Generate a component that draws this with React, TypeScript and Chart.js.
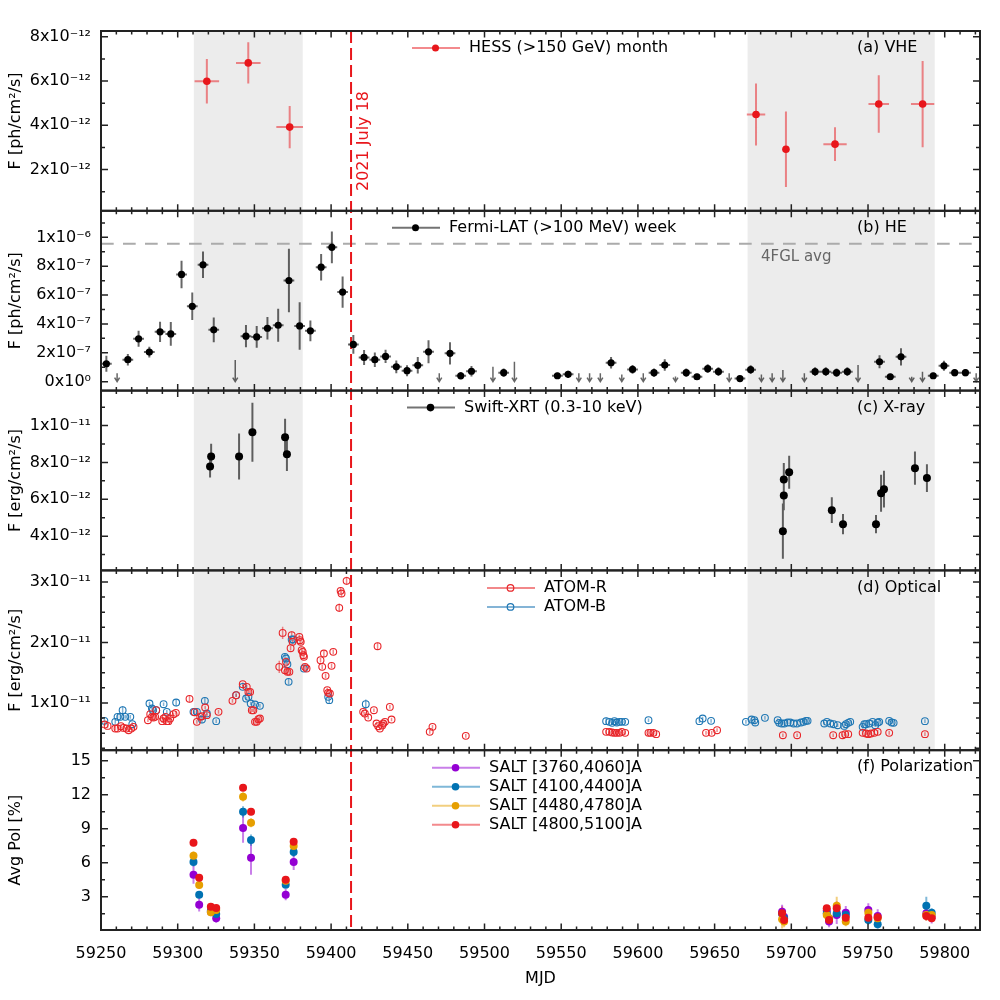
import React, { useEffect, useRef } from 'react';
import { Chart, registerables } from 'chart.js';

Chart.register(...registerables);

const FONT_FAMILY = "'DejaVu Sans', 'Liberation Sans', sans-serif";

// ---------------- shared time axis ----------------
const X_RANGE = [59250, 59823];
const X_MAJOR_STEP = 50;
const X_MINOR_STEP = 10;
const SHADED_BANDS = [
  [59310.5, 59381.5],
  [59671.5, 59793.5],
];
const EVENT_MJD = 59413;
const EVENT_TEXT = '2021 July 18';

// ---------------- (a) VHE: H.E.S.S. monthly (flux in 1e-12 ph/cm2/s) ----------------
const hessMjd = [59319, 59346, 59373, 59677, 59696.5, 59728.5, 59757, 59785.6];
const hessFlux = [5.99, 6.82, 3.92, 4.49, 2.92, 3.15, 4.96, 4.96];
const hessErr = [1.0, 0.93, 0.95, 1.4, 1.7, 0.76, 1.3, 1.95];
const hessXErr = [8, 8, 8.7, 6, 0, 7.6, 6.7, 7.6];

// ---------------- (b) HE: Fermi-LAT weekly (flux in 1e-6 ph/cm2/s) ----------------
// [mjd, flux, err]
const fermiPoints = [
  [59253.5, 0.124, 0.055], [59267.5, 0.152, 0.04], [59274.5, 0.297, 0.055], [59281.5, 0.205, 0.037],
  [59288.5, 0.345, 0.07], [59295.5, 0.331, 0.083], [59302.5, 0.743, 0.095], [59309.5, 0.522, 0.095],
  [59316.5, 0.81, 0.092], [59323.5, 0.359, 0.086], [59344.5, 0.315, 0.077], [59351.5, 0.31, 0.075],
  [59358.5, 0.37, 0.078], [59365.5, 0.391, 0.115], [59372.5, 0.701, 0.22], [59379.5, 0.386, 0.165],
  [59386.5, 0.352, 0.072], [59393.5, 0.793, 0.092], [59400.5, 0.931, 0.11], [59407.5, 0.621, 0.108],
  [59414.5, 0.258, 0.065], [59421.5, 0.168, 0.052], [59428.5, 0.152, 0.05], [59435.5, 0.175, 0.046],
  [59442.5, 0.103, 0.044], [59449.5, 0.076, 0.038], [59456.5, 0.113, 0.057], [59463.5, 0.207, 0.08],
  [59477.5, 0.196, 0.077], [59484.5, 0.041, 0.026], [59491.5, 0.072, 0.037], [59512.5, 0.062, 0.03],
  [59547.5, 0.041, 0.02], [59554.5, 0.051, 0.025], [59582.5, 0.131, 0.04], [59596.5, 0.085, 0.03],
  [59610.5, 0.062, 0.03], [59617.5, 0.115, 0.04], [59631.5, 0.062, 0.03], [59638.5, 0.034, 0.02],
  [59645.5, 0.09, 0.03], [59652.5, 0.069, 0.03], [59666.5, 0.021, 0.015], [59673.5, 0.083, 0.03],
  [59715.5, 0.069, 0.03], [59722.5, 0.069, 0.03], [59729.5, 0.062, 0.03], [59736.5, 0.069, 0.03],
  [59757.5, 0.138, 0.045], [59764.5, 0.034, 0.02], [59771.5, 0.172, 0.06], [59792.5, 0.041, 0.02],
  [59799.5, 0.11, 0.035], [59806.5, 0.062, 0.025], [59813.5, 0.062, 0.025],
];
const FERMI_XERR = 3.5;
// [mjd, upper limit]
const fermiUpperLimits = [
  [59260.5, 0.058], [59337.5, 0.15], [59470.5, 0.058], [59505.5, 0.103], [59519.5, 0.138],
  [59561.5, 0.058], [59568.5, 0.058], [59575.5, 0.058], [59589.5, 0.05], [59603.5, 0.058],
  [59624.5, 0.035], [59659.5, 0.058], [59680.5, 0.05], [59687.5, 0.058], [59694.5, 0.08],
  [59708.5, 0.058], [59743.5, 0.115], [59778.5, 0.034], [59785.5, 0.069], [59820.5, 0.058],
];
const UL_ARROW_END = 0;
const FERMI_4FGL_AVG = 0.955;

// ---------------- (c) X-ray: Swift-XRT (flux in 1e-12 erg/cm2/s) ----------------
const swiftMjd = [59321.1, 59321.8, 59340.0, 59348.7, 59370.0, 59371.2, 59694.5, 59695.1, 59695.1,
  59698.6, 59726.4, 59733.7, 59755.2, 59758.5, 59760.4, 59780.6, 59788.4];
const swiftFlux = [7.78, 8.32, 8.32, 9.64, 9.37, 8.44, 4.27, 6.21, 7.07, 7.47, 5.41, 4.65, 4.65, 6.33,
  6.55, 7.69, 7.15];
const swiftErr = [0.6, 0.7, 1.25, 1.6, 1.0, 0.9, 1.5, 0.8, 0.9, 0.9, 0.7, 0.55, 0.5, 1.0, 1.0, 0.9, 0.75];

// ---------------- (d) Optical: ATOM (flux in 1e-12 erg/cm2/s) [mjd, flux, err] ----------------
const atomR = [
  [59252.4, 6.42, 0.3], [59254.3, 6.2, 0.3], [59259.3, 5.76, 0.3], [59260.8, 5.76, 0.3], [59263.0, 6.15, 0.3],
  [59264.7, 5.87, 0.3], [59266.5, 5.76, 0.3], [59268.0, 5.49, 0.3], [59269.7, 5.76, 0.3], [59271.2, 6.04, 0.3],
  [59280.6, 7.14, 0.3], [59282.1, 8.13, 0.3], [59283.2, 7.69, 0.3], [59284.2, 7.58, 0.3], [59285.3, 7.69, 0.3],
  [59286.0, 8.79, 0.3], [59289.9, 6.98, 0.3], [59290.8, 7.42, 0.3], [59292.1, 7.69, 0.3], [59292.9, 6.98, 0.3],
  [59294.0, 6.98, 0.3], [59295.1, 7.42, 0.3], [59297.3, 8.13, 0.3], [59298.8, 8.35, 0.3], [59307.7, 10.67, 0.6],
  [59311.0, 8.46, 0.3], [59312.5, 6.87, 0.3], [59314.7, 7.69, 0.3], [59315.8, 7.8, 0.3], [59317.9, 9.23, 0.3],
  [59319.0, 7.97, 0.3], [59326.6, 8.52, 0.3], [59335.7, 10.34, 0.3], [59338.1, 11.27, 0.3], [59342.4, 13.09, 0.3],
  [59345.0, 12.65, 0.3], [59346.1, 11.82, 0.3], [59347.2, 11.82, 0.3], [59348.3, 8.79, 0.3], [59349.3, 8.79, 0.3],
  [59350.4, 6.87, 0.3], [59351.5, 6.87, 0.3], [59352.6, 7.31, 0.3], [59353.6, 7.42, 0.3], [59366.2, 15.96, 1.0],
  [59368.4, 21.57, 1.0], [59369.9, 15.41, 0.6], [59370.6, 16.78, 0.4], [59371.5, 15.13, 0.4], [59372.8, 15.13, 0.4],
  [59373.6, 19.04, 0.4], [59374.3, 21.19, 0.6], [59374.9, 20.09, 0.4], [59379.3, 20.91, 0.4], [59379.7, 20.36, 0.4],
  [59380.2, 20.09, 0.4], [59380.8, 18.71, 0.4], [59381.5, 18.44, 0.4], [59381.9, 17.88, 0.4], [59382.3, 17.61, 0.4],
  [59383.0, 15.96, 0.4], [59384.0, 15.68, 0.4], [59393.1, 17.06, 0.4], [59394.2, 15.96, 0.4], [59395.3, 18.16, 0.4],
  [59396.4, 14.47, 0.4], [59397.5, 12.1, 0.4], [59398.1, 11.66, 0.4], [59399.2, 11.55, 0.4], [59400.3, 16.12, 0.4],
  [59401.4, 18.44, 0.4], [59405.3, 25.71, 0.7], [59406.2, 28.52, 0.5], [59406.8, 28.08, 0.5], [59410.1, 30.17, 0.7],
  [59420.9, 8.52, 0.3], [59422.0, 8.24, 0.3], [59424.2, 7.58, 0.3], [59427.9, 8.79, 0.3], [59429.6, 6.59, 0.3],
  [59430.3, 19.37, 0.6], [59430.7, 6.15, 0.3], [59431.8, 5.76, 0.3], [59433.3, 6.26, 0.3], [59434.0, 6.59, 0.3],
  [59435.1, 6.87, 0.3], [59438.3, 9.34, 0.3], [59439.4, 7.25, 0.3], [59464.3, 5.21, 0.3], [59466.1, 6.04, 0.3],
  [59487.8, 4.55, 0.3],
  [59579.3, 5.21, 0.3], [59581.4, 5.21, 0.3], [59583.2, 5.1, 0.3], [59584.7, 5.05, 0.3], [59586.2, 5.05, 0.3],
  [59588.0, 5.05, 0.3], [59589.5, 5.21, 0.3], [59591.7, 5.05, 0.3], [59606.9, 5.05, 0.3], [59608.2, 5.05, 0.3],
  [59610.1, 5.05, 0.3], [59611.9, 4.83, 0.3], [59644.4, 5.05, 0.3], [59648.1, 5.05, 0.3], [59651.6, 5.49, 0.3],
  [59694.5, 4.66, 0.3], [59703.8, 4.66, 0.3], [59727.3, 4.66, 0.3], [59733.4, 4.66, 0.3], [59735.1, 4.83, 0.3],
  [59737.1, 4.83, 0.3], [59746.5, 5.05, 0.3], [59748.7, 4.94, 0.3], [59750.2, 4.83, 0.3], [59751.9, 4.94, 0.3],
  [59754.1, 5.05, 0.3], [59756.3, 5.21, 0.3], [59763.8, 5.05, 0.3], [59787.1, 4.83, 0.3],
];
const atomB = [
  [59252.2, 7.03, 0.3], [59259.3, 6.87, 0.3], [59260.8, 7.69, 0.3], [59262.6, 7.69, 0.3], [59264.1, 8.79, 0.7],
  [59265.8, 7.69, 0.3], [59269.1, 7.69, 0.3], [59270.4, 6.48, 0.3], [59281.6, 9.89, 0.3], [59283.2, 9.07, 0.3],
  [59283.8, 8.79, 0.3], [59286.0, 8.79, 0.3], [59290.8, 9.78, 0.3], [59292.9, 8.52, 0.3], [59299.0, 10.06, 0.6],
  [59310.3, 8.52, 0.3], [59312.5, 8.52, 0.3], [59315.8, 7.25, 0.6], [59317.7, 10.34, 0.6], [59319.0, 8.24, 0.3],
  [59325.1, 6.98, 0.3], [59338.1, 11.27, 0.3], [59342.4, 12.65, 0.3], [59344.6, 10.72, 0.3], [59346.1, 11.0, 0.3],
  [59347.6, 9.89, 0.3], [59350.4, 9.73, 0.3], [59353.6, 9.51, 0.3], [59369.9, 17.61, 0.6], [59370.6, 17.33, 0.3],
  [59371.5, 16.4, 0.3], [59372.3, 13.48, 0.5], [59374.3, 20.47, 0.3], [59375.4, 20.47, 0.3], [59382.3, 15.68, 0.3],
  [59398.1, 11.0, 0.3], [59398.8, 10.45, 0.5], [59422.6, 9.78, 0.8],
  [59579.3, 6.98, 0.6], [59581.4, 6.87, 0.3], [59583.2, 6.7, 0.3], [59584.7, 6.98, 0.3], [59586.2, 6.76, 0.3],
  [59588.0, 6.87, 0.3], [59589.5, 6.87, 0.3], [59591.7, 6.87, 0.3], [59606.9, 7.14, 0.3], [59640.1, 6.98, 0.3],
  [59642.2, 7.42, 0.3], [59647.7, 7.03, 0.3], [59670.4, 6.87, 0.3], [59674.1, 7.25, 0.3], [59675.9, 7.14, 0.3],
  [59676.5, 6.76, 0.3], [59682.8, 7.53, 0.3], [59691.1, 7.14, 0.3], [59692.1, 6.7, 0.3], [59693.7, 6.59, 0.3],
  [59695.4, 6.59, 0.3], [59697.6, 6.76, 0.3], [59699.3, 6.76, 0.3], [59701.5, 6.59, 0.3], [59703.7, 6.59, 0.3],
  [59706.3, 6.76, 0.3], [59708.0, 6.87, 0.3], [59709.5, 7.03, 0.3], [59710.6, 7.03, 0.3], [59721.5, 6.59, 0.3],
  [59723.2, 6.87, 0.3], [59725.4, 6.59, 0.3], [59727.6, 6.48, 0.3], [59730.2, 6.31, 0.3], [59734.5, 6.2, 0.3],
  [59735.6, 6.48, 0.3], [59737.1, 6.7, 0.3], [59738.4, 6.87, 0.3], [59746.5, 6.04, 0.3], [59747.6, 6.48, 0.3],
  [59748.7, 6.48, 0.3], [59750.8, 6.59, 0.3], [59753.0, 6.87, 0.3], [59754.7, 6.31, 0.3], [59756.3, 6.76, 0.3],
  [59757.3, 6.87, 0.3], [59763.8, 7.03, 0.3], [59765.4, 6.76, 0.3], [59766.7, 6.7, 0.3], [59787.1, 6.98, 0.3],
];

// ---------------- (f) Polarization: SALT (%) ----------------
const saltMjd = [59310.3, 59314.0, 59321.6, 59325.1, 59342.6, 59347.8, 59370.4, 59375.6, 59694.0, 59695.3,
  59723.1, 59724.6, 59729.6, 59735.5, 59750.2, 59756.3, 59788.0, 59791.5];
const salt3760 = [4.94, 2.3, 1.68, 1.09, 9.06, 6.44, 3.18, 6.06, 1.68, 1.2, 1.77, 0.8, 1.38, 1.59, 1.82, 1.3, 1.53, 1.24];
const salt3760Err = [0.8, 0.6, 0.4, 0.4, 1.3, 1.5, 0.5, 0.7, 0.6, 0.5, 0.5, 0.5, 0.8, 0.6, 0.6, 0.6, 0.6, 0.6];
const salt4100 = [6.06, 3.18, 1.77, 1.47, 10.5, 8.0, 4.06, 6.94, 1.47, 1.1, 1.53, 1.09, 1.53, 1.38, 0.94, 0.56, 2.2, 1.59];
const salt4100Err = [0.4, 0.3, 0.3, 0.3, 0.5, 0.5, 0.3, 0.4, 0.5, 0.4, 0.4, 0.4, 0.5, 0.4, 0.4, 0.4, 0.8, 0.4];
const salt4480 = [6.62, 4.03, 1.62, 1.82, 11.82, 9.53, 4.41, 7.47, 1.0, 0.8, 1.38, 1.09, 2.2, 0.8, 1.59, 1.09, 1.38, 1.38];
const salt4480Err = [0.4, 0.3, 0.3, 0.3, 0.4, 0.4, 0.3, 0.3, 0.8, 0.5, 0.4, 0.4, 0.8, 0.4, 0.4, 0.4, 0.5, 0.4];
const salt4800 = [7.76, 4.68, 2.12, 2.0, 12.62, 10.5, 4.5, 7.85, 1.53, 0.94, 1.97, 0.94, 1.97, 1.15, 1.15, 1.18, 1.3, 1.09];
const salt4800Err = [0.3, 0.3, 0.2, 0.2, 0.3, 0.3, 0.2, 0.3, 0.6, 0.4, 0.3, 0.4, 0.6, 0.3, 0.3, 0.4, 0.4, 0.3];

// ---------------- y axes ----------------
const PANEL_IDS = ['yA', 'yB', 'yC', 'yD', 'yF'];
const Y_MIN = [0.14e-12, -0.062e-6, 2.14e-12, 2.18e-12, 0.06];
const Y_MAX = [8.26e-12, 1.184e-6, 11.9e-12, 31.9e-12, 15.94];
const Y_MAJOR = [2e-12, 2e-7, 2e-12, 1e-11, 3];
const Y_MINOR = [1e-12, 1e-7, 1e-12, 2.5e-12, 1.5];
const Y_TITLES = ['F [ph/cm²/s]', 'F [ph/cm²/s]', 'F [erg/cm²/s]', 'F [erg/cm²/s]', 'Avg Pol [%]'];
const PANEL_LABELS = ['(a) VHE', '(b) HE', '(c) X-ray', '(d) Optical', '(f) Polarization'];

const E12 = 1e-12;
const E6 = 1e-6;

const RED = '#e8161b';
const RED_ALPHA = 'rgba(232,22,27,0.5)';
const GREY_BAR = 'rgba(0,0,0,0.6)';
const ATOM_R_COLOR = '#e8262a';
const ATOM_R_ALPHA = 'rgba(232,38,42,0.55)';
const ATOM_B_COLOR = '#1f77b4';
const ATOM_B_ALPHA = 'rgba(31,119,180,0.55)';
const SALT_COLORS = ['#9400d3', '#0072b2', '#e69f00', '#e8161b'];
const SALT_ALPHA = ['rgba(148,0,211,0.5)', 'rgba(0,114,178,0.5)', 'rgba(230,159,0,0.5)', 'rgba(232,22,27,0.5)'];
const SALT_LABELS = ['SALT [3760,4060]A', 'SALT [4100,4400]A', 'SALT [4480,4780]A', 'SALT [4800,5100]A'];

const SUP: Record<string, string> = {
  '-': '⁻', '0': '⁰', '1': '¹', '2': '²', '3': '³', '4': '⁴', '5': '⁵', '6': '⁶', '7': '⁷', '8': '⁸', '9': '⁹',
};
function sciLabel(v: number): string {
  if (Math.abs(v) < 1e-30) return '0x10⁰';
  let e = Math.floor(Math.log10(Math.abs(v)) + 1e-9);
  let m = Math.round(v / Math.pow(10, e));
  if (m === 10) { m = 1; e += 1; }
  return `${m}x10${String(e).split('').map((c) => SUP[c]).join('')}`;
}

const tickFont = { family: FONT_FAMILY, size: 16 };
const titleFont = { family: FONT_FAMILY, size: 16 };

function yScale(i: number) {
  return {
    type: 'linear',
    position: 'left',
    stack: 'panels',
    stackWeight: 1,
    weight: 10 - i,
    min: Y_MIN[i],
    max: Y_MAX[i],
    grid: { display: false, drawTicks: false },
    border: { display: false },
    ticks: {
      stepSize: Y_MAJOR[i],
      includeBounds: false,
      autoSkip: false,
      maxTicksLimit: 20,
      padding: 10,
      font: tickFont,
      color: '#000',
      callback: (v: number) => (i === 4 ? String(Math.round(v)) : sciLabel(v)),
    },
    title: { display: true, text: Y_TITLES[i], font: titleFont, color: '#000', padding: { top: 6, bottom: 0 } },
    afterFit: (s: any) => { s.width = 101; },
  };
}

function drawErrors(ctx: any, xs: any, ys: any, mjd: number[], val: number[], err: number[], xerr: number[] | null, color: string, width: number) {
  ctx.save();
  ctx.strokeStyle = color;
  ctx.lineWidth = width;
  ctx.setLineDash([]);
  ctx.beginPath();
  for (let i = 0; i < mjd.length; i++) {
    const px = xs.getPixelForValue(mjd[i]);
    ctx.moveTo(px, ys.getPixelForValue(val[i] - err[i]));
    ctx.lineTo(px, ys.getPixelForValue(val[i] + err[i]));
    if (xerr && xerr[i] > 0) {
      const py = ys.getPixelForValue(val[i]);
      ctx.moveTo(xs.getPixelForValue(mjd[i] - xerr[i]), py);
      ctx.lineTo(xs.getPixelForValue(mjd[i] + xerr[i]), py);
    }
  }
  ctx.stroke();
  ctx.restore();
}

function legendItem(ctx: any, x0: number, y: number, lineColor: string, markerColor: string, open: boolean, r: number, text: string) {
  ctx.save();
  ctx.setLineDash([]);
  ctx.strokeStyle = lineColor;
  ctx.lineWidth = 2;
  ctx.beginPath();
  ctx.moveTo(x0, y);
  ctx.lineTo(x0 + 48, y);
  ctx.stroke();
  ctx.beginPath();
  ctx.arc(x0 + 23.5, y, r, 0, Math.PI * 2);
  if (open) {
    ctx.lineWidth = 1.2;
    ctx.strokeStyle = markerColor;
    ctx.stroke();
  } else {
    ctx.fillStyle = markerColor;
    ctx.fill();
  }
  ctx.fillStyle = '#000';
  ctx.font = `16px ${FONT_FAMILY}`;
  ctx.textAlign = 'left';
  ctx.textBaseline = 'middle';
  ctx.fillText(text, x0 + 57, y);
  ctx.restore();
}

const mwlPlugin = {
  id: 'mwlPanels',
  beforeDraw(chart: any) {
    const { ctx, scales } = chart;
    const x = scales.x;
    const top = scales.yA.top;
    const bottom = scales.yD.bottom;
    ctx.save();
    ctx.fillStyle = '#ececec';
    for (const [a, b] of SHADED_BANDS) {
      const x0 = x.getPixelForValue(a);
      const x1 = x.getPixelForValue(b);
      ctx.fillRect(x0, top, x1 - x0, bottom - top);
    }
    ctx.restore();
  },
  beforeDatasetsDraw(chart: any) {
    const { ctx, scales, chartArea } = chart;
    const x = scales.x;
    const clipTo = (ys: any) => {
      ctx.beginPath();
      ctx.rect(chartArea.left, ys.top, chartArea.right - chartArea.left, ys.bottom - ys.top);
      ctx.clip();
    };

    // (a) HESS
    ctx.save();
    clipTo(scales.yA);
    drawErrors(ctx, x, scales.yA, hessMjd, hessFlux.map((v) => v * E12), hessErr.map((v) => v * E12), hessXErr, RED_ALPHA, 2);
    ctx.restore();

    // (b) Fermi
    ctx.save();
    clipTo(scales.yB);
    const yB = scales.yB;
    ctx.strokeStyle = '#ababab';
    ctx.lineWidth = 2;
    ctx.setLineDash([12.7, 9.3]);
    const pyAvg = yB.getPixelForValue(FERMI_4FGL_AVG * E6);
    ctx.beginPath();
    ctx.moveTo(chartArea.left, pyAvg);
    ctx.lineTo(chartArea.right, pyAvg);
    ctx.stroke();
    ctx.setLineDash([]);
    drawErrors(ctx, x, yB, fermiPoints.map((p) => p[0]), fermiPoints.map((p) => p[1] * E6),
      fermiPoints.map((p) => p[2] * E6), fermiPoints.map(() => FERMI_XERR), GREY_BAR, 2);
    ctx.strokeStyle = 'rgba(0,0,0,0.6)';
    ctx.lineWidth = 1.5;
    for (const [m, ul] of fermiUpperLimits) {
      const px = x.getPixelForValue(m);
      const y0 = yB.getPixelForValue(ul * E6);
      const y1 = yB.getPixelForValue(UL_ARROW_END * E6);
      ctx.beginPath();
      ctx.moveTo(px, y0);
      ctx.lineTo(px, y1);
      ctx.moveTo(px - 2.5, y1 - 4);
      ctx.lineTo(px, y1);
      ctx.lineTo(px + 2.5, y1 - 4);
      ctx.stroke();
    }
    ctx.restore();

    // (c) Swift
    ctx.save();
    clipTo(scales.yC);
    drawErrors(ctx, x, scales.yC, swiftMjd, swiftFlux.map((v) => v * E12), swiftErr.map((v) => v * E12), null, GREY_BAR, 2);
    ctx.restore();

    // (d) ATOM
    ctx.save();
    clipTo(scales.yD);
    drawErrors(ctx, x, scales.yD, atomB.map((p) => p[0]), atomB.map((p) => p[1] * E12), atomB.map((p) => p[2] * E12), null, ATOM_B_ALPHA, 1.5);
    drawErrors(ctx, x, scales.yD, atomR.map((p) => p[0]), atomR.map((p) => p[1] * E12), atomR.map((p) => p[2] * E12), null, ATOM_R_ALPHA, 1.5);
    ctx.restore();

    // (f) SALT
    ctx.save();
    clipTo(scales.yF);
    const saltVals = [salt3760, salt4100, salt4480, salt4800];
    const saltErrs = [salt3760Err, salt4100Err, salt4480Err, salt4800Err];
    for (let s = 0; s < 4; s++) {
      drawErrors(ctx, x, scales.yF, saltMjd, saltVals[s], saltErrs[s], null, SALT_ALPHA[s], 2);
    }
    ctx.restore();

    // event line
    ctx.save();
    ctx.strokeStyle = RED;
    ctx.lineWidth = 2;
    ctx.setLineDash([12, 5]);
    const ex = x.getPixelForValue(EVENT_MJD);
    ctx.beginPath();
    ctx.moveTo(ex, chartArea.top);
    ctx.lineTo(ex, chartArea.bottom);
    ctx.stroke();
    ctx.restore();
  },
  afterDraw(chart: any) {
    const { ctx, scales, chartArea } = chart;
    const x = scales.x;
    const L = chartArea.left;
    const R = chartArea.right;
    ctx.save();
    ctx.strokeStyle = '#222';
    ctx.setLineDash([]);

    const xMajorPx = x.ticks.map((t: any) => x.getPixelForValue(t.value));
    const xMinorPx: number[] = [];
    for (let k = Math.ceil(x.min / X_MINOR_STEP - 1e-6); k <= Math.floor(x.max / X_MINOR_STEP + 1e-6); k++) {
      const v = k * X_MINOR_STEP;
      if (Math.abs(v / X_MAJOR_STEP - Math.round(v / X_MAJOR_STEP)) < 1e-6) continue;
      xMinorPx.push(x.getPixelForValue(v));
    }

    PANEL_IDS.forEach((id, i) => {
      const ys = scales[id];
      const T = ys.top;
      const B = ys.bottom;
      // frame
      ctx.lineWidth = 2;
      ctx.strokeRect(L, T, R - L, B - T);
      ctx.lineWidth = 1.5;
      ctx.beginPath();
      // x ticks (inward, top and bottom)
      for (const px of xMajorPx) {
        ctx.moveTo(px, T); ctx.lineTo(px, T + 6.5);
        ctx.moveTo(px, B); ctx.lineTo(px, B - 6.5);
      }
      for (const px of xMinorPx) {
        ctx.moveTo(px, T); ctx.lineTo(px, T + 3.5);
        ctx.moveTo(px, B); ctx.lineTo(px, B - 3.5);
      }
      // y ticks (inward, left and right)
      const majorPy = ys.ticks.map((t: any) => ys.getPixelForValue(t.value));
      for (const py of majorPy) {
        ctx.moveTo(L, py); ctx.lineTo(L + 7, py);
        ctx.moveTo(R, py); ctx.lineTo(R - 7, py);
      }
      const step = Y_MINOR[i];
      for (let k = Math.ceil(ys.min / step - 1e-6); k <= Math.floor(ys.max / step + 1e-6); k++) {
        const py = ys.getPixelForValue(k * step);
        if (majorPy.some((m: number) => Math.abs(m - py) < 0.5)) continue;
        ctx.moveTo(L, py); ctx.lineTo(L + 4, py);
        ctx.moveTo(R, py); ctx.lineTo(R - 4, py);
      }
      ctx.stroke();

      // panel label
      ctx.fillStyle = '#000';
      ctx.font = `16px ${FONT_FAMILY}`;
      ctx.textAlign = 'left';
      ctx.textBaseline = 'middle';
      ctx.fillText(PANEL_LABELS[i], 857, T + 17);
    });
    ctx.restore();

    // legends
    const tA = scales.yA.top, tB = scales.yB.top, tC = scales.yC.top, tD = scales.yD.top, tF = scales.yF.top;
    legendItem(ctx, 412, tA + 17, RED_ALPHA, RED, false, 3.5, 'HESS (>150 GeV) month');
    legendItem(ctx, 392, tB + 17, 'rgba(0,0,0,0.55)', '#000', false, 3.5, 'Fermi-LAT (>100 MeV) week');
    legendItem(ctx, 407, tC + 17, 'rgba(0,0,0,0.55)', '#000', false, 3.8, 'Swift-XRT (0.3-10 keV)');
    legendItem(ctx, 487, tD + 17.5, ATOM_R_ALPHA, ATOM_R_COLOR, true, 3.3, 'ATOM-R');
    legendItem(ctx, 487, tD + 36.5, ATOM_B_ALPHA, ATOM_B_COLOR, true, 3.3, 'ATOM-B');
    for (let s = 0; s < 4; s++) {
      legendItem(ctx, 432, tF + 17.5 + s * 19, SALT_ALPHA[s], SALT_COLORS[s], false, 3.8, SALT_LABELS[s]);
    }

    // 4FGL avg label
    ctx.save();
    ctx.fillStyle = '#666';
    ctx.font = `15px ${FONT_FAMILY}`;
    ctx.textAlign = 'left';
    ctx.textBaseline = 'middle';
    ctx.fillText('4FGL avg', 761, scales.yB.getPixelForValue(FERMI_4FGL_AVG * E6) + 13);
    ctx.restore();

    // event label
    ctx.save();
    const ex = x.getPixelForValue(EVENT_MJD);
    ctx.translate(ex + 13, scales.yA.top + 160);
    ctx.rotate(-Math.PI / 2);
    ctx.fillStyle = RED;
    ctx.font = `16px ${FONT_FAMILY}`;
    ctx.textAlign = 'left';
    ctx.textBaseline = 'middle';
    ctx.fillText(EVENT_TEXT, 0, 0);
    ctx.restore();
  },
};

function buildDatasets() {
  const pts = (xs: number[], ys: number[], f = 1) => xs.map((m, i) => ({ x: m, y: ys[i] * f }));
  const saltVals = [salt3760, salt4100, salt4480, salt4800];
  const base = { showLine: false, pointHoverRadius: 0, borderWidth: 0 };
  const ds: any[] = [
    { ...base, label: 'HESS (>150 GeV) month', yAxisID: 'yA', data: pts(hessMjd, hessFlux, E12),
      pointRadius: 3.8, backgroundColor: RED, borderColor: RED },
    { ...base, label: 'Fermi-LAT (>100 MeV) week', yAxisID: 'yB',
      data: fermiPoints.map((p) => ({ x: p[0], y: p[1] * E6 })),
      pointRadius: 3.6, backgroundColor: '#000', borderColor: '#000' },
    { ...base, label: 'Swift-XRT (0.3-10 keV)', yAxisID: 'yC', data: pts(swiftMjd, swiftFlux, E12),
      pointRadius: 4, backgroundColor: '#000', borderColor: '#000' },
    { ...base, label: 'ATOM-R', yAxisID: 'yD', order: 0,
      data: atomR.map((p) => ({ x: p[0], y: p[1] * E12 })),
      pointRadius: 3.4, borderWidth: 1.1, backgroundColor: 'rgba(0,0,0,0)', borderColor: ATOM_R_COLOR },
    { ...base, label: 'ATOM-B', yAxisID: 'yD', order: 1,
      data: atomB.map((p) => ({ x: p[0], y: p[1] * E12 })),
      pointRadius: 3.4, borderWidth: 1.1, backgroundColor: 'rgba(0,0,0,0)', borderColor: ATOM_B_COLOR },
  ];
  for (let s = 0; s < 4; s++) {
    ds.push({ ...base, label: SALT_LABELS[s], yAxisID: 'yF', order: 3 - s, data: pts(saltMjd, saltVals[s]),
      pointRadius: 4, backgroundColor: SALT_COLORS[s], borderColor: SALT_COLORS[s] });
  }
  return ds;
}

export default function App() {
  const ref = useRef<HTMLCanvasElement>(null);
  useEffect(() => {
    if (!ref.current) return;
    Chart.defaults.font.family = FONT_FAMILY;
    const scales: any = {
      x: {
        type: 'linear',
        position: 'bottom',
        min: X_RANGE[0],
        max: X_RANGE[1],
        grid: { display: false, drawTicks: false },
        border: { display: false },
        ticks: {
          stepSize: X_MAJOR_STEP,
          includeBounds: false,
          autoSkip: false,
          maxRotation: 0,
          padding: 14,
          font: tickFont,
          color: '#000',
          callback: (v: number) => String(v),
        },
        title: { display: true, text: 'MJD', font: titleFont, color: '#000', padding: { top: 0, bottom: 12 } },
        afterFit: (s: any) => { s.height = 70; },
      },
    };
    PANEL_IDS.forEach((id, i) => { scales[id] = yScale(i); });
    const chart = new Chart(ref.current, {
      type: 'scatter',
      data: { datasets: buildDatasets() },
      options: {
        animation: false,
        responsive: false,
        devicePixelRatio: 1,
        events: [],
        layout: { padding: { top: 31, right: 20, left: 0, bottom: 0 } },
        plugins: { legend: { display: false }, tooltip: { enabled: false }, title: { display: false } },
        scales,
      } as any,
      plugins: [mwlPlugin as any],
    });
    return () => chart.destroy();
  }, []);
  return (
    <div style={{ position: 'absolute', left: 0, top: 0, width: 1000, height: 1000, background: '#fff' }}>
      <canvas ref={ref} width={1000} height={1000} style={{ width: 1000, height: 1000, display: 'block' }} />
    </div>
  );
}
